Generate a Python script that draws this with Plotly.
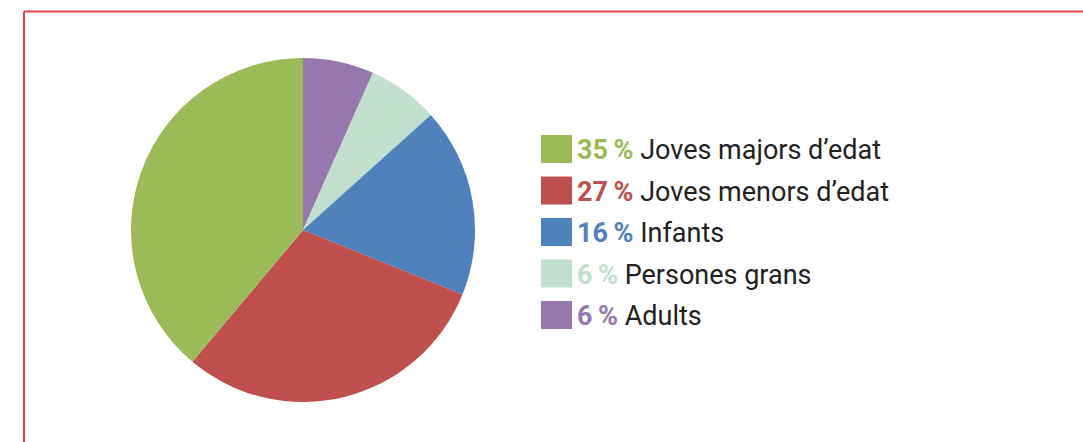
import plotly.graph_objects as go

# Data
categories = ["Joves majors d’edat", "Joves menors d’edat", "Infants", "Persones grans", "Adults"]
percents = [35, 27, 16, 6, 6]
colors = ["#9bbb59", "#c0504d", "#4f81bd", "#c2e0cd", "#9678ae"]

W, H = 1083, 442

def px_x(x):
    return x / W

def px_y(y):
    return 1 - y / H

# Slices run clockwise from 12 o'clock, smallest group first
fig = go.Figure(
    go.Pie(
        labels=categories[::-1],
        values=percents[::-1],
        marker=dict(colors=colors[::-1], line=dict(width=0)),
        sort=False,
        direction="clockwise",
        rotation=0,
        textinfo="none",
        hoverinfo="label+value",
        domain=dict(x=[px_x(131), px_x(475)], y=[px_y(402), px_y(58)]),
        showlegend=False,
    )
)

shapes = []
annotations = []

# Frame lines
frame_color = "#e8404f"
shapes.append(dict(type="line", xref="paper", yref="paper",
                   x0=px_x(24), x1=1, y0=px_y(11.5), y1=px_y(11.5),
                   line=dict(color=frame_color, width=2)))
shapes.append(dict(type="line", xref="paper", yref="paper",
                   x0=px_x(24), x1=px_x(24), y0=px_y(11.5), y1=0,
                   line=dict(color=frame_color, width=2)))

# Custom legend: swatch + coloured bold percentage + label
row0, step = 149, 41.5
for i, (cat, pct, col) in enumerate(zip(categories, percents, colors)):
    cy = row0 + i * step
    shapes.append(dict(type="rect", xref="paper", yref="paper",
                       x0=px_x(541), x1=px_x(572),
                       y0=px_y(cy + 14), y1=px_y(cy - 14),
                       fillcolor=col, line=dict(width=0)))
    annotations.append(dict(
        xref="paper", yref="paper", x=px_x(575), y=px_y(cy + 1),
        xanchor="left", yanchor="middle", showarrow=False,
        text=f"<b><span style='color:{col}'>{pct}\u2009%</span></b> {cat}",
        font=dict(family="Roboto", size=27, color="#222222"),
    ))

fig.update_layout(
    width=W, height=H,
    margin=dict(l=0, r=0, t=0, b=0),
    paper_bgcolor="white",
    plot_bgcolor="white",
    shapes=shapes,
    annotations=annotations,
)

fig.write_html("out.html")
